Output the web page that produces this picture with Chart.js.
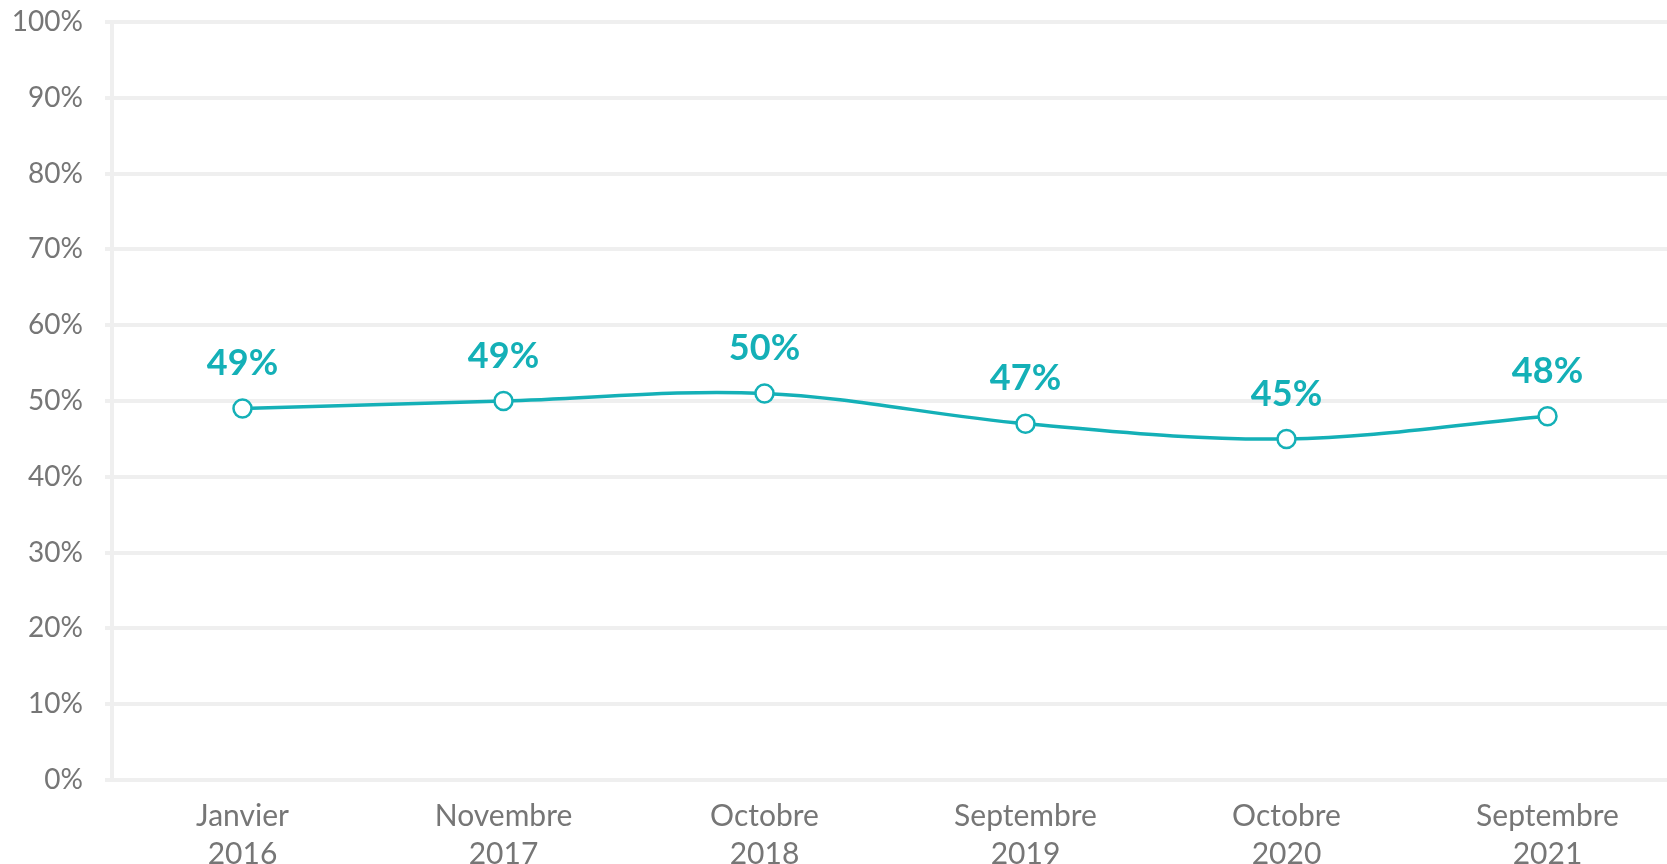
<!DOCTYPE html>
<html>
<head>
<meta charset="utf-8">
<script src="https://cdn.jsdelivr.net/npm/chart.js@4/dist/chart.umd.min.js"></script>
<style>
  html, body { margin: 0; padding: 0; background: #fff; overflow: hidden; }
  #wrap { width: 1678px; height: 864px; }
  #chart { display: block; width: 1678px; height: 864px; }
</style>
</head>
<body>
<div id="wrap"><canvas id="chart" width="1678" height="864"></canvas></div>
<script>
const categories = [
  ["Janvier", "2016"],
  ["Novembre", "2017"],
  ["Octobre", "2018"],
  ["Septembre", "2019"],
  ["Octobre", "2020"],
  ["Septembre", "2021"],
];
const values = [49, 50, 51, 47, 45, 48];
const valueLabels = ["49%", "49%", "50%", "47%", "45%", "48%"];
const yTicks = [0, 10, 20, 30, 40, 50, 60, 70, 80, 90, 100];

const teal = "rgb(20, 176, 183)";
const gridGray = "#efefef";
const textGray = "#767676";

Chart.defaults.font.family = "Lato, 'Open Sans', sans-serif";

// draws the value labels above each point
const pointLabels = {
  id: "pointLabels",
  afterDatasetsDraw(chart) {
    const ctx = chart.ctx;
    const meta = chart.getDatasetMeta(0);
    ctx.save();
    ctx.font = "bold 36px Lato, 'Open Sans', sans-serif";
    ctx.fillStyle = teal;
    ctx.textAlign = "center";
    ctx.textBaseline = "middle";
    meta.data.forEach((pt, i) => {
      ctx.fillText(valueLabels[i], pt.x, pt.y - 45);
    });
    ctx.restore();
  },
};

// let the layout padding alone decide where the plot area sits
function noScalePadding(scale) {
  scale.paddingTop = 0;
  scale.paddingBottom = 0;
  scale.paddingLeft = 0;
  scale.paddingRight = 0;
}

document.addEventListener("DOMContentLoaded", () => {
  const ctx = document.getElementById("chart").getContext("2d");
  new Chart(ctx, {
    type: "line",
    data: {
      labels: categories,
      datasets: [
        {
          data: values,
          borderColor: teal,
          borderWidth: 3.5,
          pointBackgroundColor: "#ffffff",
          pointBorderColor: teal,
          pointBorderWidth: 2.5,
          pointRadius: 9,
          tension: 0.35,
          clip: false,
        },
      ],
    },
    options: {
      responsive: false,
      animation: false,
      layout: {
        autoPadding: false,
        padding: { top: 22, right: 0, left: 0, bottom: 0 },
      },
      plugins: {
        legend: { display: false },
        tooltip: { enabled: false },
      },
      scales: {
        x: {
          offset: true,
          grid: { display: false, drawTicks: false },
          border: { display: false },
          ticks: {
            color: textGray,
            font: { size: 30, lineHeight: 1.25 },
            padding: 18,
            maxRotation: 0,
            autoSkip: false,
          },
          afterFit: (scale) => {
            scale.height = 84;
            noScalePadding(scale);
          },
        },
        y: {
          min: 0,
          max: 100,
          afterBuildTicks: (scale) => {
            scale.ticks = yTicks.map((v) => ({ value: v }));
          },
          grid: { color: gridGray, lineWidth: 4, tickLength: 7 },
          border: { display: true, color: gridGray, width: 4 },
          ticks: {
            color: textGray,
            font: { size: 28 },
            padding: 22,
            callback: (v) => v + "%",
          },
          afterFit: (scale) => {
            scale.width = 112;
            noScalePadding(scale);
          },
        },
      },
    },
    plugins: [pointLabels],
  });
});
</script>
</body>
</html>
